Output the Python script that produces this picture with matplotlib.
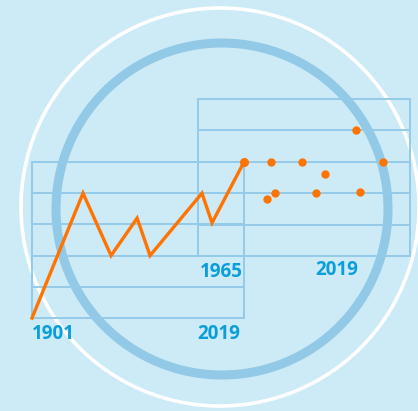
import matplotlib
matplotlib.use("Agg")
import matplotlib.pyplot as plt
from matplotlib.patches import Circle

# ---- data ----
line_years = [1901, 1929.4, 1945, 1959.5, 1966.7, 1995.6, 2001.2, 2019]
line_values = [0, 4, 2, 3.2, 2, 4, 3.05, 5]

dot_years = [1983.6, 1991.5, 1997.3, 2005.2, 2012.1, 1982.6, 1984.6, 1995.0, 2006.2]
dot_values = [3, 3, 2.6, 4, 3, 1.8, 2.0, 2.0, 2.05]

left_range = [1901, 2019]
right_range = [1965, 2019]
left_labels = ["1901", "2019"]
right_labels = ["1965", "2019"]
n_bands = 5

# ---- style ----
BG = "#cdeaf7"
GRID = "#94cbe8"
RING = "#92c9e6"
ORANGE = "#ff7300"
TEXT = "#0a9edb"

W, H = 418, 411
fig = plt.figure(figsize=(W / 100, H / 100), dpi=100)
fig.patch.set_facecolor(BG)

# circles (background layer)
cax = fig.add_axes([0, 0, 1, 1])
cax.set_xlim(0, W)
cax.set_ylim(H, 0)
cax.set_aspect("auto")
cax.axis("off")
cax.add_patch(Circle((220, 207), 199, fill=False, ec="white", lw=2.6))
cax.add_patch(Circle((222, 209), 166, fill=False, ec=RING, lw=6.5))


def make_axes(rect_px, xr):
    x0, y0, x1, y1 = rect_px
    ax = fig.add_axes([x0 / W, (H - y1) / H, (x1 - x0) / W, (y1 - y0) / H])
    ax.patch.set_alpha(0)
    ax.set_xlim(*xr)
    ax.set_ylim(0, n_bands)
    ax.axis("off")
    for v in range(n_bands + 1):
        ax.axhline(v, color=GRID, lw=1.4, zorder=1, clip_on=False)
    ax.axvline(xr[0], color=GRID, lw=1.4, zorder=1, clip_on=False)
    ax.axvline(xr[1], color=GRID, lw=1.4, zorder=1, clip_on=False)
    return ax


ax_r = make_axes((198, 99, 410, 256), right_range)
ax_l = make_axes((32, 162, 244, 318), left_range)

ax_l.plot(line_years, line_values, color=ORANGE, lw=2.4, zorder=3,
          clip_on=False, solid_joinstyle="miter")
ax_l.plot([line_years[-1]], [line_values[-1]], "o", color=ORANGE, ms=5.5,
          zorder=4, clip_on=False)
ax_r.plot(dot_years, dot_values, "o", color=ORANGE, ms=5, lw=0, zorder=4,
          clip_on=False)

font = dict(family=["Open Sans", "DejaVu Sans"], weight="bold", size=13.5,
            color=TEXT)
ax_l.text(left_range[0], -0.52, left_labels[0], ha="left", va="center",
          **font)
ax_l.text(left_range[1] - 2.0, -0.52, left_labels[1], ha="right",
          va="center", **font)
ax_r.text(right_range[0] + 0.4, -0.5, right_labels[0], ha="left",
          va="center", **font)
ax_r.text(2000.4, -0.45, right_labels[1], ha="center", va="center", **font)

fig.savefig("out.png", dpi=100, facecolor=BG)
